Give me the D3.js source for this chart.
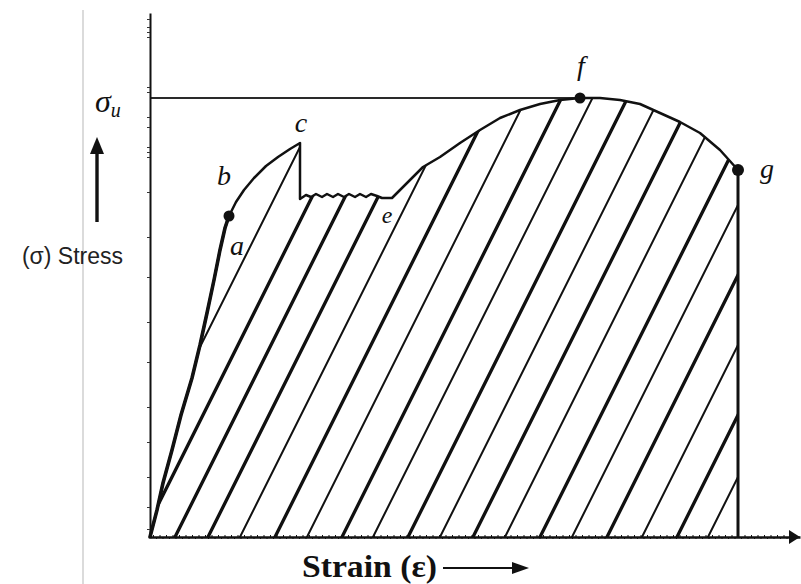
<!DOCTYPE html>
<html><head><meta charset="utf-8">
<script src="https://cdn.jsdelivr.net/npm/d3@7"></script>
<style>body{margin:0;background:#fff}svg{display:block}</style>
</head><body><svg id="c" width="801" height="584"></svg>
<script>
// ---- data (strain in arbitrary %, stress in arbitrary units) ----
const curveStrain = [0,0.7,1.3,2.2,3.1,4.2,5.0,5.7,6.4,7.0,7.5,7.9,8.6,9.4,10.4,11.6,12.8,14.0,15.0,
  15.0,15.6,16.1,16.6,17.2,17.7,18.3,18.8,19.4,19.9,20.5,21.0,21.6,22.1,22.7,23.2,24.2,
  25.0,26.0,27.3,29.0,31.0,33.0,35.0,37.0,39.0,41.0,43.0,45.0,47.0,49.0,51.0,53.0,55.0,57.0,58.8];
const curveStress = [0,27,54,87,122,159,192,224,257,287,309,321,335,347,359,371,380,388,394,
  338,342,340,343,340,343,340,343,340,343,340,343,340,343,341,339,339,
  347,357,370,380,394,407,419,427,433,437,439,439,437,433,424,415,404,387,367];
const ultimateStress = 439;
const elasticEndIndex = 11;           // point "a"
const hatchMajor = [-0.8,2.5,5.8,12.5,19.2,25.8,32.3,39.0,45.7,52.7];
const hatchMinor = [-4.5,9.0,15.7,22.3,29.0,35.5,42.2,49.2,55.8];
const markStrain = [7.9,43.0,58.8];
const markStress = [321,439,367];
const labelText = ["a","b","c","e","f","g"];
const labelStrain = [8.7,7.4,15.1,23.7,43.1,61.7];
const labelStress = [282,352,405,314,462,359];
const xTitle = "Strain (\u03b5)";
const yTitle = "(\u03c3) Stress";

// ---- layout ----
const svg = d3.select("#c");
const x = d3.scaleLinear().domain([0,65]).range([150,800]);
const y = d3.scaleLinear().domain([0,524]).range([537,13]);
const ink = "#111";
const pts = curveStrain.map((s,i)=>[s,curveStress[i]]);

// grey page rule
svg.append("line").attr("x1",83).attr("x2",83).attr("y1",10).attr("y2",584)
  .attr("stroke","#cfcfcf").attr("stroke-width",1.5);

// clip region (area under the curve)
const area = d3.area().x(d=>x(d[0])).y0(y(0)).y1(d=>y(d[1]));
svg.append("clipPath").attr("id","under").append("path").attr("d",area(pts));

// hatching
const slope = 0.05; // strain per stress unit
const hg = svg.append("g").attr("clip-path","url(#under)");
function hatch(arr, w){
  hg.selectAll(null).data(arr).enter().append("line")
    .attr("x1",d=>x(d)).attr("y1",y(0))
    .attr("x2",d=>x(d+slope*524)).attr("y2",y(524))
    .attr("stroke",ink).attr("stroke-width",w).attr("stroke-linecap","round");
}
hatch(hatchMajor,3.3);
hatch(hatchMinor,2);

// ultimate stress line
svg.append("line").attr("x1",x(0)).attr("x2",x(markStrain[1])).attr("y1",y(ultimateStress)).attr("y2",y(ultimateStress))
  .attr("stroke","#2a2a2a").attr("stroke-width",2);

// curve
const line = d3.line().x(d=>x(d[0])).y(d=>y(d[1]));
svg.append("path").attr("d",line(pts)).attr("fill","none").attr("stroke",ink)
  .attr("stroke-width",2.5).attr("stroke-linejoin","round");
svg.append("path").attr("d",line(pts.slice(0,elasticEndIndex+1))).attr("fill","none").attr("stroke",ink)
  .attr("stroke-width",3.6).attr("stroke-linecap","round");
// fracture drop
const last = pts[pts.length-1];
svg.append("line").attr("x1",x(last[0])).attr("x2",x(last[0])).attr("y1",y(last[1])).attr("y2",y(0))
  .attr("stroke",ink).attr("stroke-width",3);

// axes
const xAxis = d3.axisBottom(x).tickValues(d3.range(0.6,64,0.65)).tickSize(2).tickSizeOuter(0).tickFormat("");
const xAxisUp = d3.axisBottom(x).tickValues(d3.range(0.3,64,0.65)).tickSize(-2).tickSizeOuter(0).tickFormat("");
const gx = svg.append("g").attr("transform",`translate(0,${y(0)})`).call(xAxis);
svg.append("g").attr("transform",`translate(0,${y(0)})`).call(xAxisUp).select(".domain").remove();
gx.select(".domain").attr("stroke",ink).attr("stroke-width",2.6);
svg.selectAll(".tick line").attr("stroke",ink).attr("stroke-width",1);
const yAxis = d3.axisLeft(y).tickValues([8,30,60,95,130,175,215,260,300,345,380,385,390,410,420,445,450,500,505,510,518]).tickSize(3).tickSizeOuter(0).tickFormat("");
const gy = svg.append("g").attr("transform",`translate(${x(0)},0)`).call(yAxis);
gy.select(".domain").attr("stroke",ink).attr("stroke-width",2);
gy.selectAll(".tick line").attr("stroke","#333").attr("stroke-width",1);
// x arrow head
const xr = x.range()[1];
svg.append("path").attr("d",`M${xr},${y(0)} L${xr-11},${y(0)-7} L${xr-11},${y(0)+7} Z`).attr("fill",ink);

// marked points
svg.selectAll(null).data(markStrain).enter().append("circle")
  .attr("cx",d=>x(d)).attr("cy",(d,i)=>y(markStress[i])).attr("r",(d,i)=>i===2?6:5.5).attr("fill",ink);

// point labels
svg.selectAll(null).data(labelText).enter().append("text")
  .attr("x",(d,i)=>x(labelStrain[i])).attr("y",(d,i)=>y(labelStress[i]))
  .attr("text-anchor","middle").attr("font-family","'Liberation Serif','Times New Roman',serif")
  .attr("font-style","italic").attr("font-size",(d)=>d==="e"?24:28).attr("fill",ink).text(d=>d);

// sigma_u
const su = svg.append("text").attr("x",95).attr("y",y(ultimateStress)+14)
  .attr("font-family","'Liberation Serif','Times New Roman',serif").attr("font-style","italic").attr("fill",ink);
su.append("tspan").attr("font-size",32).text("\u03c3");
su.append("tspan").attr("font-size",20).attr("dy",5).text("u");

// stress arrow
svg.append("line").attr("x1",97).attr("x2",97).attr("y1",222).attr("y2",150).attr("stroke",ink).attr("stroke-width",3.4);
svg.append("path").attr("d","M97,137 L90,154 L104,154 Z").attr("fill",ink);

// titles
svg.append("text").attr("x",123).attr("y",264).attr("text-anchor","end").attr("font-family","'Liberation Sans',Arial,sans-serif")
  .attr("font-size",23).attr("fill","#222").text(yTitle);
svg.append("text").attr("x",302).attr("y",577).attr("font-family","'Liberation Serif','Times New Roman',serif")
  .attr("font-weight","bold").attr("font-size",31).attr("textLength",135).attr("lengthAdjust","spacingAndGlyphs")
  .attr("fill",ink).text(xTitle);
svg.append("line").attr("x1",443).attr("x2",516).attr("y1",568).attr("y2",568).attr("stroke",ink).attr("stroke-width",2.2);
svg.append("path").attr("d","M529,568 L512,562 L512,574 Z").attr("fill",ink);
</script></body></html>
